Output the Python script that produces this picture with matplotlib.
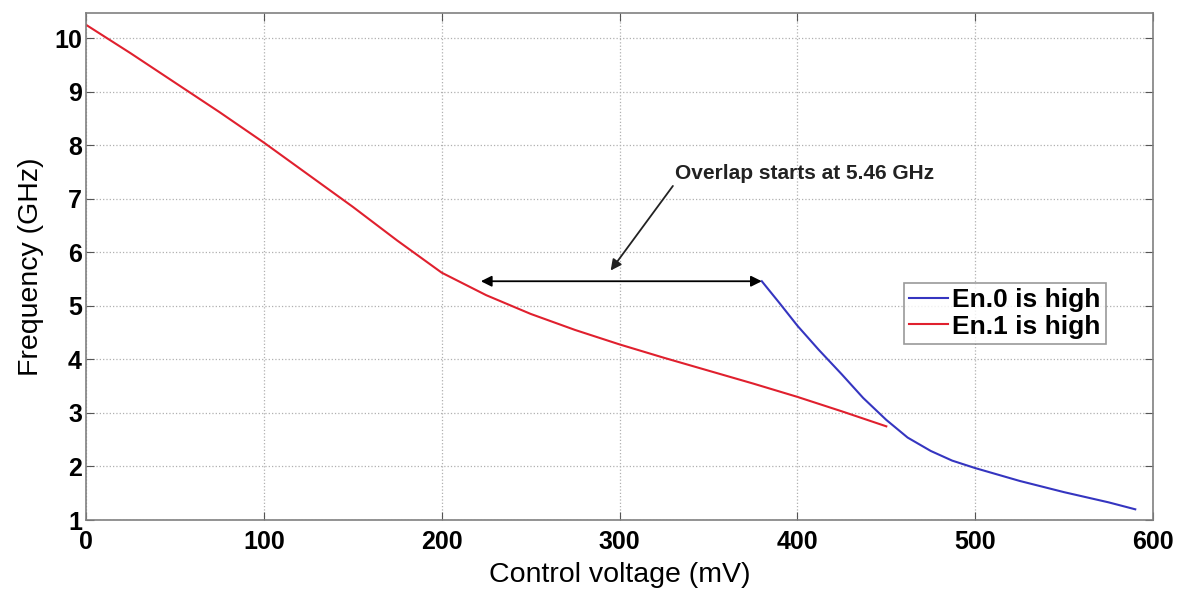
import matplotlib.pyplot as plt

plt.rcParams['font.family'] = ['Liberation Sans', 'DejaVu Sans']

# Control voltage (mV) and frequency (GHz)
v_en1 = [0, 25, 50, 75, 100, 125, 150, 175, 200, 225, 250, 275, 300, 325, 350, 375, 400, 425, 450]
f_en1 = [10.25, 9.72, 9.17, 8.62, 8.05, 7.45, 6.85, 6.22, 5.62, 5.2, 4.85, 4.55, 4.28, 4.03, 3.79, 3.55, 3.3, 3.03, 2.75]

v_en0 = [380, 390, 400, 412, 425, 437, 450, 462, 475, 487, 500, 525, 550, 575, 590]
f_en0 = [5.46, 5.05, 4.63, 4.18, 3.72, 3.28, 2.87, 2.54, 2.29, 2.11, 1.97, 1.73, 1.52, 1.33, 1.2]

overlap_f = 5.46
overlap_v = [222, 380]

fig = plt.figure(figsize=(11.82, 5.92), dpi=100)
ax = fig.add_axes([0.0728, 0.1216, 0.9027, 0.8564])

ax.plot(v_en0, f_en0, color='#3535c0', lw=1.5, label='En.0 is high')
ax.plot(v_en1, f_en1, color='#e0202e', lw=1.5, label='En.1 is high')

ax.annotate('', xy=(overlap_v[0], overlap_f), xytext=(overlap_v[1], overlap_f),
            arrowprops=dict(arrowstyle='<|-|>', color='black', lw=1.3,
                            shrinkA=0, shrinkB=0, mutation_scale=16))
ax.annotate('', xy=(295, 5.66), xytext=(330, 7.24),
            arrowprops=dict(arrowstyle='-|>', color='#222222', lw=1.3,
                            shrinkA=0, shrinkB=0, mutation_scale=16))
ax.text(331, 7.47, 'Overlap starts at 5.46 GHz', fontsize=15, fontweight='bold',
        va='center', ha='left', color='#222222')

ax.set_xlim(0, 600)
ax.set_ylim(1, 10.47)
ax.set_xticks(range(0, 601, 100))
ax.set_yticks(range(1, 11))
ax.grid(True, ls=':', color='#b0b0b0', lw=0.9)
ax.tick_params(direction='in', top=True, right=True, length=6, color='#555555',
               labelsize=18)
ax.tick_params(axis='x', pad=7)
ax.tick_params(axis='y', pad=3)
for lab in ax.get_xticklabels() + ax.get_yticklabels():
    lab.set_fontweight('bold')
for s in ax.spines.values():
    s.set_color('#808080')
    s.set_linewidth(1.2)

ax.set_xlabel('Control voltage (mV)', fontsize=20.5, labelpad=6)
ax.set_ylabel('Frequency (GHz)', fontsize=20.5, labelpad=7)

leg = ax.legend(loc='upper right', bbox_to_anchor=(0.956, 0.468),
                prop={'weight': 'bold', 'size': 19}, fancybox=False,
                edgecolor='#808080', handlelength=1.5, handletextpad=0.15,
                borderpad=0.2, labelspacing=0.1, borderaxespad=0)
leg.get_frame().set_linewidth(1.2)

fig.savefig('out.png', dpi=100, facecolor='white')
